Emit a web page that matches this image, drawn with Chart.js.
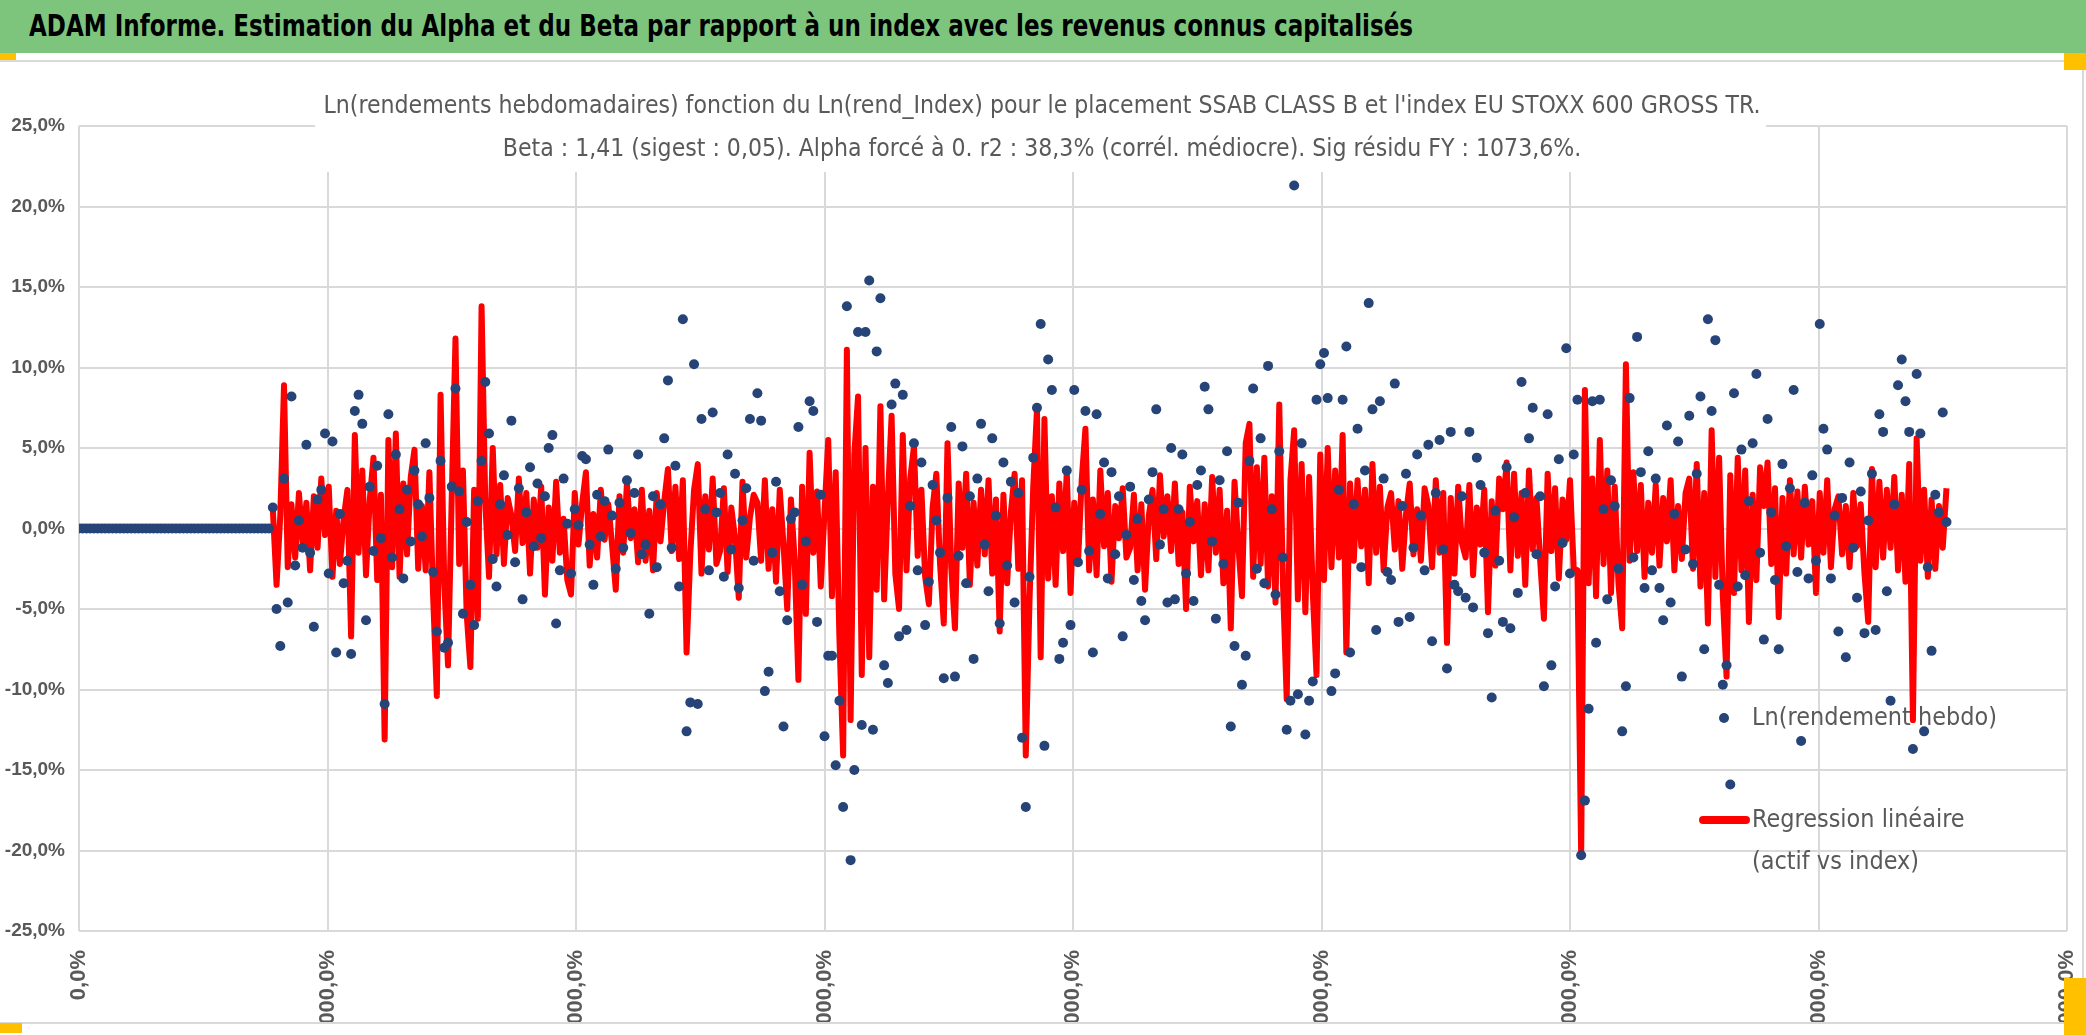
<!DOCTYPE html>
<html>
<head>
<meta charset="utf-8">
<script src="https://cdn.jsdelivr.net/npm/chart.js@4.4.1/dist/chart.umd.min.js"></script>
<style>
  html, body { margin: 0; padding: 0; background: #fff; }
  body { width: 2086px; height: 1035px; position: relative; overflow: hidden;
         font-family: 'Liberation Sans Narrow', 'DejaVu Sans Condensed', 'Open Sans', sans-serif; }
  #banner { position: absolute; left: 0; top: 0; width: 2086px; height: 53px; background: #7dc57d; }
  #bannerText { position: absolute; left: 29px; top: 9px; transform-origin: 0 0;
                font-weight: bold; font-size: 30px; line-height: 34px; color: #000; white-space: nowrap; }
  #frame { position: absolute; left: -2px; top: 60px; width: 2082px; height: 960px;
           border: 2px solid #d9d9d9; }
  #wrap { position: absolute; left: 0; top: 62px; width: 2082px; height: 960px; }
  .handle { position: absolute; background: #ffc000; }
</style>
</head>
<body>
<div id="banner"><span id="bannerText"></span></div>
<div id="frame"></div>
<div id="wrap"><canvas id="chart"></canvas></div>
<div class="handle" style="left:0;top:53px;width:16px;height:7px"></div>
<div class="handle" style="left:2064px;top:53px;width:22px;height:17px"></div>
<div class="handle" style="left:2064px;top:978px;width:22px;height:57px"></div>
<div class="handle" style="left:0;top:1023px;width:22px;height:10px"></div>
<script>
const FONT = "'Liberation Sans Narrow', 'DejaVu Sans Condensed', 'Open Sans', sans-serif";

const bannerTitle = 'ADAM Informe. Estimation du Alpha et du Beta par rapport à un index avec les revenus connus capitalisés';
const chartTitle = [
  "Ln(rendements hebdomadaires) fonction du Ln(rend_Index) pour le placement SSAB CLASS B et l'index EU STOXX 600 GROSS TR.",
  "Beta : 1,41 (sigest : 0,05). Alpha forcé à 0. r2 : 38,3% (corrél. médiocre). Sig résidu FY : 1073,6%."
];
const legendLines = [['Ln(rendement hebdo)'], ['Regression linéaire', '(actif vs index)']];

// x axis = week number, shown as percent (labels cut off like the original)
const xTickWeeks = [0, 200, 400, 600, 800, 1000, 1200, 1400, 1600];
const xTickLabels = ['0,0%', '000,0%', '000,0%', '000,0%', '000,0%', '000,0%', '000,0%', '000,0%', '000,0%'];

const weekStep = 3;
const firstReturnWeek = 156;

// weeks 0..153 : no price yet, returns stuck at 0
const flatReturns = [
  0,0,0,0,0,0,0,0,0,0, 0,0,0,0,0,0,0,0,0,0, 0,0,0,0,0,0,0,0,0,0,
  0,0,0,0,0,0,0,0,0,0, 0,0,0,0,0,0,0,0,0,0, 0,0
];

// Ln(rendement hebdo) in %, weeks 156..1503 every 3 weeks
const stockReturns = [
  1.3, -5.0, -7.3, 3.1, -4.6, 8.2, -2.3, 0.5, -1.2, 5.2,
  -1.5, -6.1, 1.8, 2.4, 5.9, -2.8, 5.4, -7.7, 0.9, -3.4,
  -2.0, -7.8, 7.3, 8.3, 6.5, -5.7, 2.6, -1.4, 3.9, -0.6,
  -10.9, 7.1, -1.8, 4.6, 1.2, -3.1, 2.4, -0.8, 3.6, 1.5,
  -0.5, 5.3, 1.9, -2.7, -6.4, 4.2, -7.4, -7.1, 2.6, 8.7,
  2.3, -5.3, 0.4, -3.5, -6.0, 1.7, 4.2, 9.1, 5.9, -1.9,
  -3.6, 1.5, 3.3, -0.4, 6.7, -2.1, 2.5, -4.4, 1.0, 3.8,
  -1.1, 2.8, -0.6, 2.0, 5.0, 5.8, -5.9, -2.6, 3.1, 0.3,
  -2.8, 1.2, 0.2, 4.5, 4.3, -1.0, -3.5, 2.1, -0.5, 1.7,
  4.9, 0.8, -2.5, 1.6, -1.2, 3.0, -0.3, 2.2, 4.6, -1.6,
  -1.0, -5.3, 2.0, -2.4, 1.5, 5.6, 9.2, -1.2, 3.9, -3.6,
  13.0, -12.6, -10.8, 10.2, -10.9, 6.8, 1.2, -2.6, 7.2, 1.0,
  2.2, -3.0, 4.6, -1.3, 3.4, -3.7, 0.5, 2.5, 6.8, -2.0,
  8.4, 6.7, -10.1, -8.9, -1.5, 2.9, -3.9, -12.3, -5.7, 0.6,
  1.0, 6.3, -3.5, -0.8, 7.9, 7.3, -5.8, 2.1, -12.9, -7.9,
  -7.9, -14.7, -10.7, -17.3, 13.8, -20.6, -15.0, 12.2, -12.2, 12.2,
  15.4, -12.5, 11.0, 14.3, -8.5, -9.6, 7.7, 9.0, -6.7, 8.3,
  -6.3, 1.4, 5.3, -2.6, 4.1, -6.0, -3.3, 2.7, 0.5, -1.5,
  -9.3, 1.9, 6.3, -9.2, -1.7, 5.1, -3.4, 2.0, -8.1, 3.1,
  6.5, -1.0, -3.9, 5.6, 0.8, -5.9, 4.1, -2.3, 2.9, -4.6,
  2.2, -13.0, -17.3, -3.0, 4.4, 7.5, 12.7, -13.5, 10.5, 8.6,
  1.3, -8.1, -7.1, 3.6, -6.0, 8.6, -2.1, 2.4, 7.3, -1.4,
  -7.7, 7.1, 0.9, 4.1, -3.1, 3.5, -1.6, 2.0, -6.7, -0.4,
  2.6, -3.2, 0.6, -4.5, -5.7, 1.8, 3.5, 7.4, -1.0, 1.2,
  -4.6, 5.0, -4.4, 1.2, 4.6, -2.8, 0.4, -4.5, 2.7, 3.6,
  8.8, 7.4, -0.8, -5.6, 3.0, -2.2, 4.8, -12.3, -7.3, 1.6,
  -9.7, -7.9, 4.2, 8.7, -2.5, 5.6, -3.4, 10.1, 1.2, -4.1,
  4.8, -1.8, -12.5, -10.7, 21.3, -10.3, 5.3, -12.8, -10.7, -9.5,
  8.0, 10.2, 10.9, 8.1, -10.1, -9.0, 2.4, 8.0, 11.3, -7.7,
  1.5, 6.2, -2.4, 3.6, 14.0, 7.4, -6.3, 7.9, 3.1, -2.7,
  -3.2, 9.0, -5.8, 1.4, 3.4, -5.5, -1.2, 4.6, 0.8, -2.6,
  5.2, -7.0, 2.2, 5.5, -1.3, -8.7, 6.0, -3.5, -3.9, 2.0,
  -4.3, 6.0, -4.9, 4.4, 2.7, -1.5, -6.5, -10.5, 1.1, -2.0,
  -5.8, 3.8, -6.2, 0.7, -4.0, 9.1, 2.2, 5.6, 7.5, -1.6,
  2.0, -9.8, 7.1, -8.5, -3.6, 4.3, -0.9, 11.2, -2.8, 4.6,
  8.0, -20.3, -16.9, -11.2, 7.9, -7.1, 8.0, 1.2, -4.4, 3.0,
  1.4, -2.5, -12.6, -9.8, 8.1, -1.8, 11.9, 3.5, -3.7, 4.8,
  -2.6, 3.1, -3.7, -5.7, 6.4, -4.6, 0.9, 5.4, -9.2, -1.3,
  7.0, -2.2, 3.4, 8.2, -7.5, 13.0, 7.3, 11.7, -3.5, -9.7,
  -8.5, -15.9, 8.4, -3.6, 4.9, -2.9, 1.7, 5.3, 9.6, -1.5,
  -6.9, 6.8, 1.0, -3.2, -7.5, 4.0, -1.1, 2.5, 8.6, -2.7,
  -13.2, 1.6, -3.1, 3.3, -2.0, 12.7, 6.2, 4.9, -3.1, 0.8,
  -6.4, 1.9, -8.0, 4.1, -1.2, -4.3, 2.3, -6.5, 0.5, 3.4,
  -6.3, 7.1, 6.0, -3.9, -10.7, 1.5, 8.9, 10.5, 7.9, 6.0,
  -13.7, 9.6, 5.9, -12.6, -2.4, -7.6, 2.1, 1.0, 7.2, 0.4
];

// Regression linéaire (beta x index) in %, same weeks
const regressionLine = [
  1.2, -3.5, 0.8, 8.9, -2.4, 1.5, -1.8, 2.2, -0.9, 1.6,
  -2.6, 2.0, -1.2, 3.1, -0.4, 2.6, -3.0, 1.1, -2.2, 0.6,
  2.4, -6.7, 5.8, -1.5, 3.6, -2.9, 1.8, 4.4, -3.2, 2.1,
  -13.1, 5.5, -2.4, 5.9, -3.0, 2.8, -1.6, 3.2, 4.9, -2.5,
  1.4, -2.6, 3.5, -4.2, -10.4, 8.3, -3.4, -8.5, 2.0, 11.8,
  -2.2, 3.6, -5.3, -8.6, 2.4, -5.6, 13.8, 1.6, -3.0, 5.0,
  -1.6, 2.7, -2.2, 1.9, 0.8, -1.4, 3.1, -0.9, 2.2, -2.8,
  1.8, -1.2, 2.6, -4.1, 1.3, -2.0, 2.9, -1.5, 0.6, -3.2,
  -4.1, 2.2, -1.0, 1.6, 3.5, -2.3, 0.9, -1.8, 2.4, -0.7,
  1.5, -1.0, -3.8, 2.0, -1.5, 2.8, -0.6, 1.2, -2.1, 2.4,
  -2.0, 1.1, -2.6, 2.2, -0.8, 1.7, 3.7, -1.4, 2.6, -1.9,
  3.0, -7.7, -1.6, 2.4, 4.0, -2.8, 2.0, -1.3, 3.1, -2.2,
  -1.4, 2.5, -2.7, 1.3, -0.6, -4.3, 2.9, -1.8, 0.7, 2.1,
  1.6, -2.0, 3.0, -2.5, 1.2, -3.3, 2.4, -1.0, -5.0, 1.8,
  -2.0, -9.4, 2.6, -5.3, 4.7, -1.5, 2.3, -3.6, 1.0, 5.5,
  -4.2, 3.5, -6.8, -14.1, 11.1, -11.9, 4.6, 8.2, -9.1, 5.0,
  -8.0, 2.6, -3.8, 7.6, -4.4, 1.9, 7.0, -2.8, -5.0, 5.8,
  -2.6, 3.1, 5.1, -1.7, 2.4, -3.0, -4.7, 1.3, 3.4, -2.2,
  -5.9, 5.3, -2.4, -6.2, 2.8, -1.2, 3.4, -3.5, 1.6, -2.3,
  2.4, -1.6, 3.0, -2.8, 1.8, -6.4, 2.1, -3.4, 1.0, 3.4,
  -2.5, 3.0, -14.1, -4.5, 2.6, 7.4, -8.0, 6.8, -3.1, 2.0,
  -3.5, 2.8, -1.4, 3.5, -4.0, 1.6, -2.2, 3.0, 6.2, -2.6,
  1.8, -2.9, 3.6, -1.1, 2.2, -3.3, 1.4, -0.6, 2.5, -1.8,
  -1.2, 2.1, -2.6, 1.5, -3.8, 0.8, 2.4, -1.9, 3.3, -0.5,
  2.0, -1.4, 2.8, -2.2, 1.0, -5.0, 2.6, -0.8, 1.7, -2.9,
  1.5, -2.6, 3.2, -1.5, 2.4, -3.4, 1.1, -6.2, 2.9, -1.0,
  -4.2, 5.3, 6.5, -3.0, 3.8, -2.2, 4.4, -3.6, 2.0, -4.6,
  7.7, -3.5, -10.6, 3.0, 6.1, -4.4, 4.0, -5.2, 3.2, -4.0,
  -9.1, 4.6, -3.2, 5.0, -2.4, 3.6, -1.8, 5.8, -7.7, 2.8,
  -2.0, 3.0, -1.1, 2.4, -3.4, 4.0, -1.5, 2.6, -2.6, 1.3,
  2.2, -1.3, 1.7, -2.5, 0.9, 2.8, -1.6, 1.2, -2.0, 2.5,
  1.4, -2.4, 3.0, -1.5, 2.2, -7.1, 1.9, -2.8, 2.6, -0.9,
  -1.8, 2.7, -2.9, 1.3, -1.0, 2.4, -5.2, 1.7, -2.3, 3.1,
  1.2, 4.1, -2.6, 3.4, -1.7, 2.2, -3.5, 3.6, -1.3, 1.9,
  -2.0, -5.6, 3.4, -1.4, 2.5, -3.1, 1.8, -0.7, 3.0, -2.5,
  -2.6, -20.3, 8.6, -3.4, 3.1, -4.2, 5.5, -2.2, 3.6, -4.0,
  2.6, -3.4, -6.2, 10.2, -2.0, 3.5, -1.4, 2.7, -3.0, 1.6,
  -1.5, 2.7, -2.3, 1.9, -0.8, 3.0, -2.6, 1.4, -1.9, 2.2,
  3.1, -2.5, 4.0, -3.6, 2.2, -5.9, 6.1, -3.0, 4.4, -4.2,
  -9.2, 3.3, -4.0, 4.4, -2.6, 3.6, -5.8, 2.1, -3.2, 3.8,
  1.4, 4.1, -2.2, 2.5, -5.5, 1.9, -2.8, 3.0, -1.6, 2.3,
  -1.8, 2.6, -1.0, 1.7, -4.0, 2.2, -1.5, 3.0, -2.4, 1.2,
  2.0, -1.6, 1.4, -2.4, 2.2, -1.1, 1.5, -2.8, -5.8, 3.7,
  -2.4, 2.9, -1.8, 2.4, -1.2, 3.2, -2.6, 2.1, -3.3, 4.0,
  -11.9, 5.6, -2.0, 2.4, -3.0, 1.8, -2.5, 1.4, -1.2, 2.5
];

// banner title: Calibri-like proportions, squeezed to the width it has in the picture
const banner = document.getElementById('bannerText');
banner.textContent = bannerTitle;
banner.style.transform = 'scaleX(' + (1384 / banner.offsetWidth) + ')';

const stockPoints = flatReturns.concat(stockReturns).map((v, i) => ({ x: i * weekStep, y: v }));
const regressionPoints = regressionLine.map((v, i) => ({ x: firstReturnWeek + i * weekStep, y: v }));

// draw text at a given size, squeezed horizontally by sx
function squeezedText(ctx, text, size, x, y, sx, align) {
  ctx.save();
  ctx.font = size + 'px ' + FONT;
  ctx.translate(x, y);
  ctx.scale(sx, 1);
  ctx.textAlign = align;
  ctx.textBaseline = 'middle';
  ctx.fillText(text, 0, 0);
  ctx.restore();
}

function squeezeFor(ctx, text, size, width) {
  ctx.font = size + 'px ' + FONT;
  return width / ctx.measureText(text).width;
}

// chart title (white box over the top grid) and legend inside the plot
const overlay = {
  id: 'overlay',
  beforeDatasetsDraw(chart) {
    const ctx = chart.ctx;
    ctx.save();
    ctx.fillStyle = '#ffffff';
    ctx.fillRect(315, 16, 1451, 94);

    ctx.fillStyle = '#595959';
    const ts = squeezeFor(ctx, chartTitle[0], 25, 1437);
    squeezedText(ctx, chartTitle[0], 25, 1042, 44, ts, 'center');
    squeezedText(ctx, chartTitle[1], 25, 1042, 87, ts, 'center');

    const ls = squeezeFor(ctx, legendLines[0][0], 25, 245);
    squeezedText(ctx, legendLines[0][0], 25, 1752, 656, ls, 'left');
    squeezedText(ctx, legendLines[1][0], 25, 1752, 758, ls, 'left');
    squeezedText(ctx, legendLines[1][1], 25, 1752, 800, ls, 'left');

    ctx.fillStyle = '#264478';
    ctx.beginPath();
    ctx.arc(1724, 656, 5, 0, Math.PI * 2);
    ctx.fill();

    ctx.strokeStyle = '#ff0000';
    ctx.lineWidth = 8;
    ctx.lineCap = 'round';
    ctx.beginPath();
    ctx.moveTo(1703, 758);
    ctx.lineTo(1746, 758);
    ctx.stroke();
    ctx.restore();
  }
};

const gridStyle = { color: '#d9d9d9', lineWidth: 2, drawTicks: false };

new Chart(document.getElementById('chart'), {
  type: 'scatter',
  data: {
    datasets: [
      {
        label: legendLines[0][0],
        data: stockPoints,
        backgroundColor: '#264478',
        borderColor: '#264478',
        borderWidth: 0,
        pointRadius: 5,
        pointHoverRadius: 5,
        showLine: false,
        order: 0
      },
      {
        label: legendLines[1].join(' '),
        data: regressionPoints,
        borderColor: '#ff0000',
        backgroundColor: '#ff0000',
        borderWidth: 6,
        borderJoinStyle: 'round',
        pointRadius: 0,
        showLine: true,
        tension: 0,
        order: 1
      }
    ]
  },
  options: {
    responsive: true,
    maintainAspectRatio: false,
    animation: false,
    devicePixelRatio: 1,
    layout: { padding: { top: 64, right: 15, bottom: 0, left: 0 } },
    plugins: {
      legend: { display: false },
      title: { display: false },
      tooltip: { enabled: false }
    },
    scales: {
      x: {
        type: 'linear',
        min: 0,
        max: 1600,
        afterFit: s => { s.height = 91; s.paddingLeft = 0; s.paddingRight = 0; },
        afterBuildTicks: s => { s.ticks = xTickWeeks.map(v => ({ value: v })); },
        grid: gridStyle,
        border: { display: false },
        ticks: {
          autoSkip: false,
          minRotation: 90,
          maxRotation: 90,
          padding: 19,
          color: '#595959',
          font: { size: 22, weight: 'bold' },
          callback: (v, i) => xTickLabels[i]
        }
      },
      y: {
        min: -25,
        max: 25,
        afterFit: s => { s.width = 79; },
        grid: gridStyle,
        border: { display: false },
        ticks: {
          stepSize: 5,
          padding: 14,
          color: '#595959',
          font: { size: 19, weight: 'bold' },
          callback: v => v.toFixed(1).replace('.', ',') + '%'
        }
      }
    }
  },
  plugins: [overlay]
});
</script>
</body>
</html>
